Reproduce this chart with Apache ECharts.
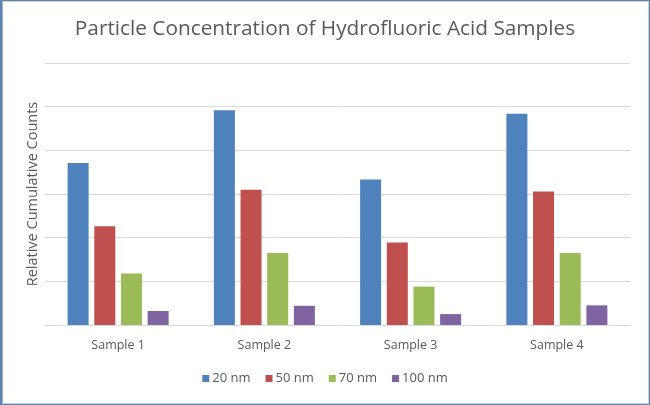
<!DOCTYPE html>
<html><head><meta charset="utf-8">
<script src="https://cdn.jsdelivr.net/npm/echarts@6/dist/echarts.min.js"></script>
<style>
html,body{margin:0;padding:0;background:#fff;}
#c{position:absolute;left:0;top:0;width:650px;height:405px;}
#f{position:absolute;left:0;top:0;width:650px;height:405px;box-sizing:border-box;border:1px solid #5f83b3;border-left:2px solid #5f83b3;pointer-events:none;}
#g{position:absolute;left:2px;top:1px;width:647px;height:403px;box-sizing:border-box;border:1px solid #d0d0d0;border-left:1px solid #9ab0cf;pointer-events:none;}
</style></head>
<body>
<div id="c"></div><div id="f"></div><div id="g"></div>
<script>
const categories = ['Sample 1', 'Sample 2', 'Sample 3', 'Sample 4'];
const seriesNames = ['20 nm', '50 nm', '70 nm', '100 nm'];
const s20 = [371, 492, 333, 484];
const s50 = [226, 310, 189, 306];
const s70 = [118, 165, 88, 165];
const s100 = [32, 44, 25, 45];
const colors = ['#4f81bd', '#c0504d', '#9bbb59', '#8064a2'];
const values = [s20, s50, s70, s100];

const font = "'Open Sans', 'Noto Sans', sans-serif";
const chart = echarts.init(document.getElementById('c'), null, {renderer: 'canvas'});
chart.setOption({
  animation: false,
  backgroundColor: '#fff',
  textStyle: {fontFamily: font},
  title: {
    text: 'Particle Concentration of Hydrofluoric Acid Samples',
    left: 'center', top: 14,
    textStyle: {fontFamily: font, fontSize: 20.8, fontWeight: 'normal', color: '#595959'}
  },
  legend: {
    data: seriesNames, bottom: 15, left: 'center',
    icon: 'rect', itemWidth: 7, itemHeight: 7, itemGap: 15,
    textStyle: {fontFamily: font, fontSize: 13, color: '#595959', padding: [0, 0, 0, -2]}
  },
  grid: {left: 45, right: 20, top: 63, bottom: 80},
  xAxis: {
    type: 'category', data: categories,
    axisLine: {lineStyle: {color: '#d9d9d9', width: 1}},
    axisTick: {show: false},
    axisLabel: {fontFamily: font, fontSize: 12.5, color: '#595959', margin: 14}
  },
  yAxis: {
    type: 'value', min: 0, max: 600, interval: 100,
    name: 'Relative Cumulative Counts', nameLocation: 'middle', nameGap: 5, nameRotate: 90,
    nameTextStyle: {fontFamily: font, fontSize: 14.5, color: '#595959'},
    axisLabel: {show: false}, axisLine: {show: false}, axisTick: {show: false},
    splitLine: {lineStyle: {color: '#d9d9d9', width: 1}}
  },
  series: values.map((v, i) => ({
    name: seriesNames[i], type: 'bar', data: v,
    barWidth: 21, barGap: '27%',
    itemStyle: {color: colors[i]}
  }))
});
</script>
</body></html>
